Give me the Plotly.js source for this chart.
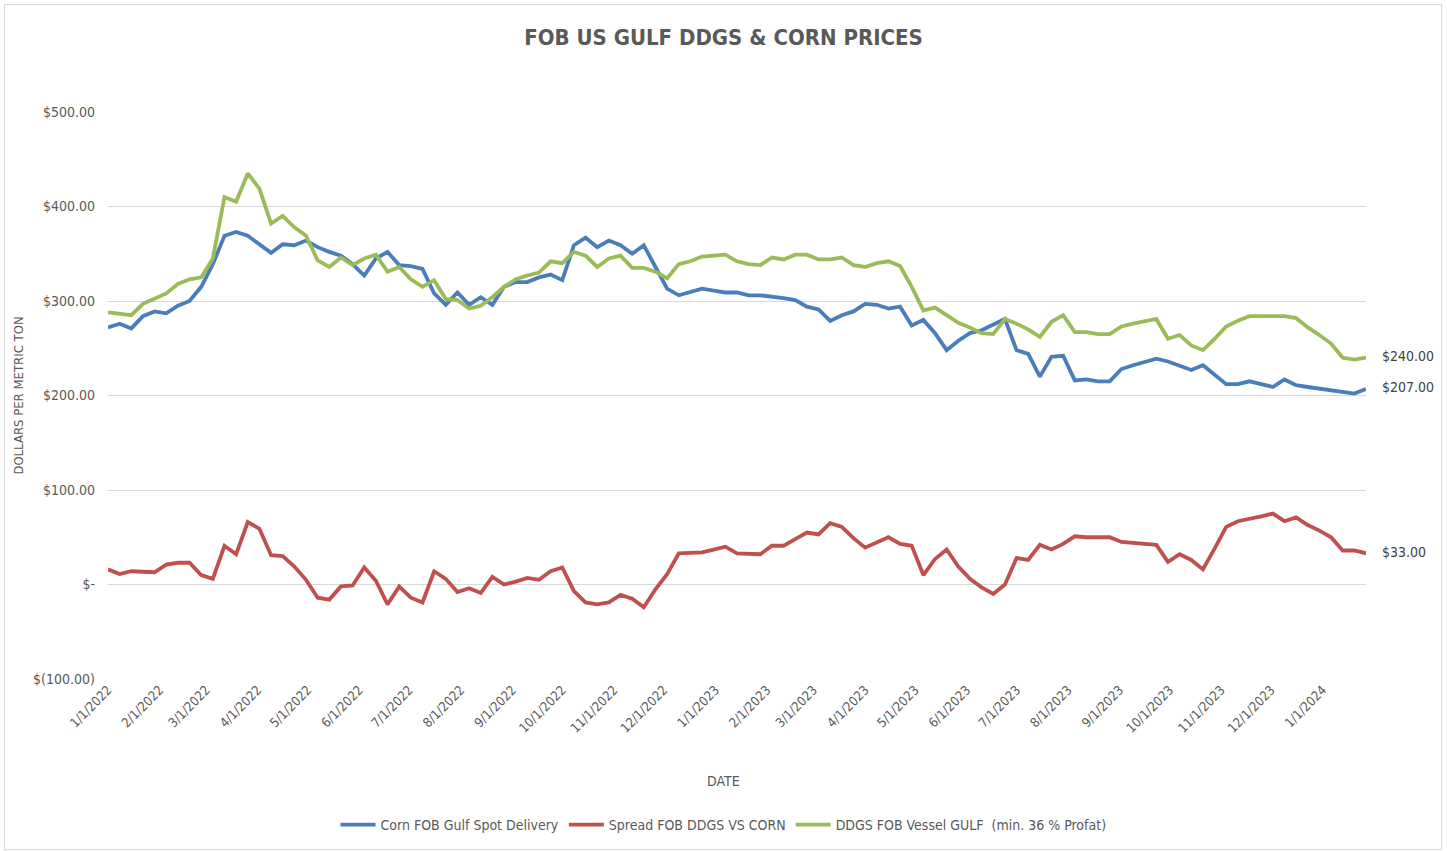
<!DOCTYPE html>
<html>
<head>
<meta charset="utf-8">
<script src="https://cdn.plot.ly/plotly-3.0.1.min.js"></script>
<style>
  html, body { margin: 0; padding: 0; background: #ffffff; }
  #chart { width: 1447px; height: 851px; }
  #frame { position: absolute; left: 4px; top: 4px; width: 1436px; height: 844px; border: 1px solid #d9d9d9; pointer-events: none; }
</style>
</head>
<body>
<div id="chart"></div>
<div id="frame"></div>
<script>
// ---- data (weekly observations starting 1/1/2022) ----
const startDate = '2022-01-01';
const weekCount = 109;

const cornFobGulf = [
  272, 276, 271, 284, 289, 287, 295, 300, 315, 339,
  369, 373, 369, 360, 351, 360, 359, 364, 357, 352,
  348, 339, 327, 345, 352, 338, 337, 334, 308, 296,
  309, 296, 304, 296, 315, 320, 320, 325, 328, 322,
  359, 367, 357, 364, 359, 350, 359, 336, 313, 306,
  309, 313, 311, 309, 309, 306, 306, 305, 303, 301,
  294, 291, 279, 285, 289, 297, 296, 292, 294, 274,
  280, 266, 248, 258, 266, 269, 275, 281, 248, 244,
  220, 241, 242, 216, 217, 215, 215, 228, 232, 235,
  239, 236, 232, 227, 232, 222, 212, 212, 215, 212,
  209, 217, 211, 209, 207, 205, 204, 202, 207
];

const spreadDdgsVsCorn = [
  16, 11, 14, 13, 13, 21, 23, 23, 10, 6,
  41, 32, 66, 59, 31, 30, 19, 5, -14, -16,
  -2, -1, 18, 4, -21, -2, -14, -19, 14, 6,
  -8, -4, -9, 8, 0, 3, 7, 5, 14, 18,
  -7, -19, -21, -19, -11, -15, -24, -5, 11, 33,
  33, 34, 37, 40, 33, 33, 32, 41, 41, 48,
  55, 53, 65, 61, 49, 39, 44, 50, 43, 41,
  10, 27, 37, 19, 6, -3, -10, 0, 28, 26,
  42, 37, 43, 51, 50, 50, 50, 45, 44, 44,
  42, 24, 32, 26, 16, 38, 61, 67, 69, 72,
  75, 67, 71, 63, 57, 50, 36, 36, 33
];

const ddgsFobVessel = [
  288, 287, 285, 297, 302, 308, 318, 323, 325, 345,
  410, 405, 435, 419, 382, 390, 378, 369, 343, 336,
  346, 338, 345, 349, 331, 336, 323, 315, 322, 302,
  301, 292, 295, 304, 315, 323, 327, 330, 342, 340,
  352, 348, 336, 345, 348, 335, 335, 331, 324, 339,
  342, 347, 348, 349, 342, 339, 338, 346, 344, 349,
  349, 344, 344, 346, 338, 336, 340, 342, 337, 315,
  290, 293, 285, 277, 272, 266, 265, 281, 276, 270,
  262, 278, 285, 267, 267, 265, 265, 273, 276, 279,
  281, 260, 264, 253, 248, 260, 273, 279, 284, 284,
  284, 284, 282, 272, 264, 255, 240, 238, 240
];

const seriesNames = [
  'Corn FOB Gulf Spot Delivery',
  'Spread FOB DDGS VS CORN',
  'DDGS FOB Vessel GULF  (min. 36 % Profat)'
];

const yTickVals = [-100, 0, 100, 200, 300, 400, 500];
const yTickText = ['$(100.00)', '$-', '$100.00', '$200.00', '$300.00', '$400.00', '$500.00'];

// ---- build the date axis ----
const dates = [];
{
  const d0 = new Date(startDate + 'T00:00:00Z');
  for (let i = 0; i < weekCount; i++) {
    const d = new Date(d0.getTime() + i * 7 * 86400000);
    dates.push(d.toISOString().slice(0, 10));
  }
}
const monthTicks = [];
for (let y = 2022; y <= 2024; y++) {
  for (let m = 1; m <= 12; m++) {
    const s = y + '-' + String(m).padStart(2, '0') + '-01';
    if (s >= dates[0] && s <= dates[dates.length - 1]) monthTicks.push(s);
  }
}
const fmt = v => v < 0 ? '$(' + Math.abs(v).toFixed(2) + ')' : '$' + v.toFixed(2);
const PAD = '\u00a0\u00a0\u00a0\u00a0';
const lastLabel = arr => arr.map((v, i) => i === arr.length - 1 ? PAD + fmt(v) : '');

const FONT = '"DejaVu Sans Condensed", "Liberation Sans", Arial, sans-serif';
const colors = ['#4a7ebb', '#c0504d', '#9bbb59'];
const values = [cornFobGulf, spreadDdgsVsCorn, ddgsFobVessel];

const traces = values.map((arr, k) => ({
  type: 'scatter',
  mode: 'lines+text',
  x: dates,
  y: arr,
  name: seriesNames[k],
  text: lastLabel(arr),
  textposition: 'middle right',
  textfont: { family: FONT, size: 14, color: '#404040' },
  cliponaxis: false,
  line: { color: colors[k], width: 3.8 },
  hoverinfo: 'x+y+name'
}));

const layout = {
  width: 1447,
  height: 851,
  paper_bgcolor: '#ffffff',
  plot_bgcolor: '#ffffff',
  margin: { l: 108, r: 81, t: 112, b: 172 },
  font: { family: FONT, color: '#595959', size: 13 },
  title: {
    text: 'FOB US GULF DDGS &amp; CORN PRICES',
    font: { family: FONT, size: 22, color: '#595959', weight: 'bold' },
    x: 0.5, xref: 'container', xanchor: 'center',
    y: 1 - 37 / 851, yref: 'container', yanchor: 'middle'
  },
  xaxis: {
    type: 'date',
    range: [dates[0], dates[dates.length - 1]],
    tickmode: 'array',
    tickvals: monthTicks,
    tickformat: '%-m/%-d/%Y',
    tickangle: -45,
    tickfont: { family: FONT, size: 13, color: '#595959' },
    showgrid: false,
    showline: false,
    zeroline: false,
    ticks: ''
  },
  yaxis: {
    range: [-100, 500],
    tickmode: 'array',
    tickvals: yTickVals,
    ticktext: yTickText,
    tickfont: { family: FONT, size: 14, color: '#595959' },
    showgrid: true,
    gridcolor: '#d9d9d9',
    gridwidth: 1,
    zeroline: false,
    showline: false,
    ticks: '',
    ticklabelstandoff: 12,
    title: { text: 'DOLLARS PER METRIC TON', font: { family: FONT, size: 13, color: '#595959' }, standoff: 6 }
  },
  annotations: [{
    text: 'DATE',
    xref: 'paper', yref: 'paper',
    x: (723 - 108) / 1258, y: -(781 - 679) / 567,
    xanchor: 'center', yanchor: 'middle',
    showarrow: false,
    font: { family: FONT, size: 14, color: '#595959' }
  }],
  showlegend: true,
  legend: {
    orientation: 'h',
    x: 0.5, xref: 'container', xanchor: 'center',
    y: 1 - 825 / 851, yref: 'container', yanchor: 'middle',
    font: { family: FONT, size: 14, color: '#595959' },
    itemwidth: 35,
    bgcolor: 'rgba(0,0,0,0)'
  },
  hovermode: false
};

Plotly.newPlot('chart', traces, layout, { displayModeBar: false, staticPlot: true });
</script>
</body>
</html>
